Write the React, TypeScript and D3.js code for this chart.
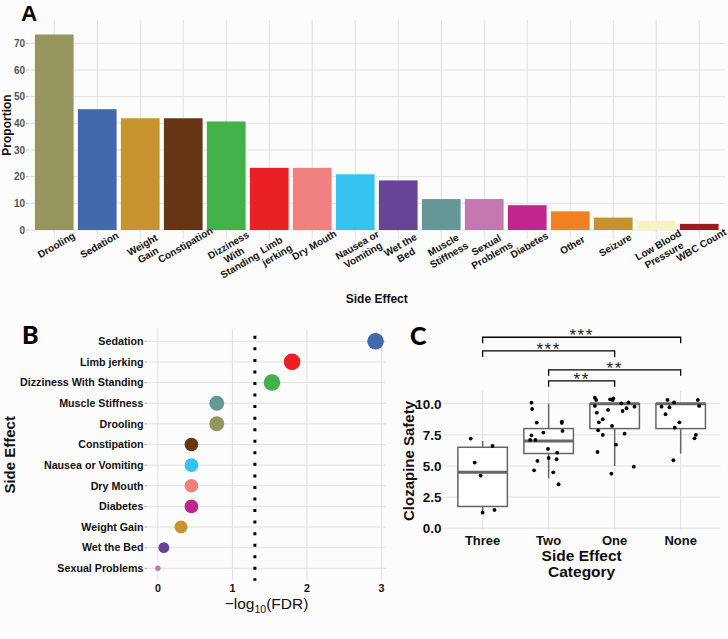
import React from "react";
import * as d3 from "d3";

// ---------- Panel A data ----------
const effectsA = [
  "Drooling", "Sedation", "Weight Gain", "Constipation", "Dizziness With Standing",
  "Limb jerking", "Dry Mouth", "Nausea or Vomiting", "Wet the Bed", "Muscle Stiffness",
  "Sexual Problems", "Diabetes", "Other", "Seizure", "Low Blood Pressure", "WBC Count",
];
const proportionA = [73.3, 45.3, 41.9, 41.9, 40.7, 23.3, 23.3, 20.9, 18.6, 11.6, 11.6, 9.3, 7.0, 4.65, 3.5, 2.3];
const colorsA = [
  "#97955f", "#4268ae", "#c79530", "#663614", "#43b14a", "#eb1f26", "#f0807f", "#35c2ee",
  "#664497", "#669797", "#c578af", "#c1268c", "#ef8124", "#c4922f", "#f8f3c6", "#9a1c20",
];
const yTicksA = [0, 10, 20, 30, 40, 50, 60, 70];

// ---------- Panel B data ----------
const effectsB = [
  "Sedation", "Limb jerking", "Dizziness With Standing", "Muscle Stiffness", "Drooling",
  "Constipation", "Nausea or Vomiting", "Dry Mouth", "Diabetes", "Weight Gain", "Wet the Bed",
  "Sexual Problems",
];
const fdrB = [2.92, 1.80, 1.53, 0.79, 0.79, 0.45, 0.45, 0.45, 0.45, 0.31, 0.08, 0.0];
const colorsB = [
  "#4268ae", "#eb1f26", "#43b14a", "#669797", "#97955f", "#663614", "#35c2ee", "#f0807f",
  "#c1268c", "#c79530", "#664497", "#c578af",
];
const xTicksB = [0, 1, 2, 3];
const thresholdB = -Math.log10(0.05);

// ---------- Panel C data ----------
const groupsC = ["Three", "Two", "One", "None"];
const whiskLoC = [1.2, 4.0, 5.0, 6.0];
const q1C = [1.75, 6.0, 8.0, 8.0];
const medC = [4.5, 7.0, 10.0, 10.0];
const q3C = [6.5, 8.0, 10.0, 10.0];
const whiskHiC = [7.0, 10.0, 10.0, 10.0];
const yTicksC = [0, 2.5, 5, 7.5, 10];
const pointGroupC = [
  0, 0, 0, 0, 0, 0,
  1, 1, 1, 1, 1, 1, 1, 1, 1, 1, 1, 1, 1, 1, 1, 1, 1, 1,
  2, 2, 2, 2, 2, 2, 2, 2, 2, 2, 2, 2, 2, 2, 2, 2, 2, 2, 2, 2, 2, 2, 2,
  3, 3, 3, 3, 3, 3, 3, 3, 3, 3, 3, 3,
];
const pointJitterC = [
  -0.18, 0.15, -0.12, -0.03, 0.0, 0.18,
  -0.26, -0.25, -0.18, 0.2, 0.2, 0.21, -0.08, -0.26, -0.28, -0.2, -0.01, 0.13, 0.0, 0.12, -0.17, -0.22, 0.07, 0.15,
  -0.3, -0.28, -0.07, -0.02, -0.03, 0.1, 0.21, 0.3, -0.3, -0.27, -0.1, 0.12, 0.18, -0.18, -0.24, -0.04, -0.25, -0.18, 0.15, 0.02, -0.26, 0.29, -0.05,
  -0.2, -0.1, 0.26, -0.29, -0.17, 0.28, -0.23, -0.02, -0.09, 0.23, 0.21, -0.11,
];
const pointValueC = [
  7.2, 6.6, 5.27, 4.22, 1.25, 1.47,
  10.08, 9.57, 8.48, 8.56, 8.45, 7.81, 7.68, 7.46, 7.09, 7.09, 6.37, 6.07, 5.64, 5.54, 5.4, 4.65, 4.49, 3.53,
  10.48, 10.3, 10.35, 10.43, 10.3, 10.03, 10.1, 9.76, 9.82, 9.28, 9.5, 9.41, 9.63, 8.75, 8.5, 8.21, 7.86, 7.49, 7.59, 6.71, 6.12, 4.94, 4.38,
  10.3, 10.1, 10.3, 9.76, 9.71, 9.82, 9.15, 8.5, 8.07, 7.49, 7.22, 5.46,
];
const bracketFrom = [0, 0, 1, 1];
const bracketTo = [3, 2, 3, 2];
const bracketY = [15.33, 14.23, 12.71, 11.83];
const bracketLabel = ["***", "***", "**", "**"];

const FONT = "'Liberation Sans', Arial, Helvetica, sans-serif";
const LETTER_FONT = "Lato, 'Open Sans', sans-serif";
const GRID = "#e1e1e1";
const INK = "#111";

function wrap(s: string, width: number): string[] {
  const words = s.split(" ");
  const lines: string[] = [];
  let cur = "";
  for (const w of words) {
    if (cur === "") cur = w;
    else if ((cur + " " + w).length <= width) cur = cur + " " + w;
    else { lines.push(cur); cur = w; }
  }
  if (cur) lines.push(cur);
  return lines;
}

function PanelA() {
  const x = d3.scaleBand<string>().domain(effectsA).range([28.5, 725]).paddingInner(0.1).paddingOuter(0.149);
  const y = d3.scaleLinear().domain([0, 78.75]).range([230, 20]);
  const [x0, x1] = x.range();
  const [yb, yt] = y.range();
  return (
    <g>
      {yTicksA.map((t) => (
        <line key={"gy" + t} x1={x0} x2={x1} y1={y(t)} y2={y(t)} stroke={GRID} strokeWidth={1} />
      ))}
      {effectsA.map((e) => {
        const cx = (x(e) as number) + x.bandwidth() / 2;
        return <line key={"gx" + e} x1={cx} x2={cx} y1={yt} y2={yb + 9} stroke={GRID} strokeWidth={1} />;
      })}
      {effectsA.map((e, i) => (
        <rect key={"b" + e} x={x(e)} y={y(proportionA[i])} width={x.bandwidth()} height={y(0) - y(proportionA[i])} fill={colorsA[i]} />
      ))}
      {yTicksA.map((t) => (
        <g key={"ty" + t}>
          <line x1={x0 - 2.5} x2={x0} y1={y(t)} y2={y(t)} stroke="#bbb" />
          <text x={x0 - 3.5} y={y(t)} dy="0.35em" textAnchor="end" fontFamily={FONT} fontWeight="bold" fontSize={10} fill="#555">{t}</text>
        </g>
      ))}
      {effectsA.map((e) => {
        const cx = (x(e) as number) + x.bandwidth() / 2;
        const lines = wrap(e, 10);
        return (
          <g key={"tx" + e} transform={`translate(${cx + 2},${245})rotate(-30)`}>
            <text textAnchor="middle" fontFamily={FONT} fontWeight="bold" fontSize={10} fill={INK}>
              {lines.map((l, k) => (
                <tspan key={k} x={0} y={k * 11.5} dy="0.35em">{l}</tspan>
              ))}
            </text>
          </g>
        );
      })}
      <text x={(x0 + x1) / 2} y={303} textAnchor="middle" fontFamily={FONT} fontWeight="bold" fontSize={12} fill={INK}>Side Effect</text>
      <text transform={`translate(11,${(yb + yt) / 2})rotate(-90)`} textAnchor="middle" fontFamily={FONT} fontWeight="bold" fontSize={12} fill={INK}>Proportion</text>
      <text x={21} y={20.8} fontFamily={FONT} fontWeight="bold" fontSize={22.5} fill="#000">A</text>
    </g>
  );
}

function PanelB() {
  const x = d3.scaleLinear().domain([-0.146, 3.06]).range([147, 386]);
  const y = d3.scalePoint<string>().domain(effectsB).range([328.9, 580.7]).padding(0.6);
  const r = d3.scalePow().exponent(0.25).domain([0, 1.5]).range([2.7, 8.3]).clamp(true);
  const [x0, x1] = x.range();
  const [y0, y1] = y.range();
  return (
    <g>
      {xTicksB.map((t) => (
        <line key={"gx" + t} x1={x(t)} x2={x(t)} y1={y0} y2={y1} stroke={GRID} />
      ))}
      {effectsB.map((e) => (
        <line key={"gy" + e} x1={x0} x2={x1} y1={y(e)} y2={y(e)} stroke={GRID} />
      ))}
      <line x1={x(thresholdB)} x2={x(thresholdB)} y1={335.8} y2={y1} stroke="#000" strokeWidth={3} strokeDasharray="3 8.55" />
      {effectsB.map((e, i) => (
        <circle key={"c" + e} cx={x(fdrB[i])} cy={y(e)} r={r(fdrB[i])} fill={colorsB[i]} />
      ))}
      {effectsB.map((e) => (
        <g key={"ty" + e}>
          <line x1={x0 - 2.5} x2={x0} y1={y(e)} y2={y(e)} stroke="#aaa" />
          <text x={x0 - 3.5} y={y(e)} dy="0.35em" textAnchor="end" fontFamily={FONT} fontWeight="bold" fontSize={10.7} fill={INK}>{e}</text>
        </g>
      ))}
      {xTicksB.map((t) => (
        <text key={"tx" + t} x={x(t)} y={592} textAnchor="middle" fontFamily={FONT} fontWeight="bold" fontSize={10.7} fill={INK}>{t}</text>
      ))}
      <text x={(x0 + x1) / 2} y={609} textAnchor="middle" fontFamily={FONT} fontSize={15.5} fill={INK}>
        −log<tspan fontSize={10.5} dy={4}>10</tspan><tspan dy={-4}>(FDR)</tspan>
      </text>
      <text transform={`translate(14.5,${(y0 + y1) / 2})rotate(-90)`} textAnchor="middle" fontFamily={FONT} fontWeight="bold" fontSize={15} fill={INK}>Side Effect</text>
      <text x={22} y={343.5} fontFamily={LETTER_FONT} fontWeight={900} fontSize={25} fill="#000">B</text>
    </g>
  );
}

function PanelC() {
  const x = d3.scalePoint<string>().domain(groupsC).range([443, 720.3]).padding(0.6);
  const y = d3.scaleLinear().domain([-0.14, 11.0]).range([530, 391.2]);
  const [x0, x1] = x.range();
  const [yb, yt] = y.range();
  const step = x.step();
  const bw = step * 0.75;
  const boxStroke = "#666";
  const tip = 0.48;
  return (
    <g>
      {yTicksC.map((t) => (
        <line key={"gy" + t} x1={x0} x2={x1} y1={y(t)} y2={y(t)} stroke={GRID} />
      ))}
      {groupsC.map((g) => (
        <line key={"gx" + g} x1={x(g)} x2={x(g)} y1={yt} y2={yb} stroke={GRID} />
      ))}
      {groupsC.map((g, i) => {
        const cx = x(g) as number;
        return (
          <g key={"box" + g}>
            <line x1={cx} x2={cx} y1={y(q3C[i])} y2={y(whiskHiC[i])} stroke={boxStroke} strokeWidth={1.5} />
            <line x1={cx} x2={cx} y1={y(q1C[i])} y2={y(whiskLoC[i])} stroke={boxStroke} strokeWidth={1.5} />
            <rect x={cx - bw / 2} y={y(q3C[i])} width={bw} height={y(q1C[i]) - y(q3C[i])} fill="#fff" stroke={boxStroke} strokeWidth={1.5} />
            <line x1={cx - bw / 2} x2={cx + bw / 2} y1={y(medC[i])} y2={y(medC[i])} stroke={boxStroke} strokeWidth={3} />
          </g>
        );
      })}
      {pointValueC.map((v, i) => (
        <circle key={"p" + i} cx={(x(groupsC[pointGroupC[i]]) as number) + pointJitterC[i] * step} cy={y(v)} r={1.9} fill="#000" />
      ))}
      {bracketY.map((by, i) => {
        const xa = x(groupsC[bracketFrom[i]]) as number;
        const xb = x(groupsC[bracketTo[i]]) as number;
        return (
          <g key={"br" + i}>
            <path d={`M${xa},${y(by - tip)}V${y(by)}H${xb}V${y(by - tip)}`} fill="none" stroke="#000" strokeWidth={1.3} />
            <text x={(xa + xb) / 2} y={y(by) + 4} textAnchor="middle" fontFamily={FONT} fontSize={17} letterSpacing={1.5} fill="#222">{bracketLabel[i]}</text>
          </g>
        );
      })}
      {yTicksC.map((t) => (
        <text key={"ty" + t} x={441.5} y={y(t)} dy="0.36em" textAnchor="end" fontFamily={FONT} fontWeight="bold" fontSize={13.5} fill={INK}>{t.toFixed(1)}</text>
      ))}
      {groupsC.map((g) => (
        <text key={"tx" + g} x={x(g)} y={545} textAnchor="middle" fontFamily={FONT} fontWeight="bold" fontSize={13} fill={INK}>{g}</text>
      ))}
      <text x={(x0 + x1) / 2} y={560.5} textAnchor="middle" fontFamily={FONT} fontWeight="bold" fontSize={15.5} fill={INK}>
        <tspan x={(x0 + x1) / 2}>Side Effect</tspan>
        <tspan x={(x0 + x1) / 2} dy={16.7}>Category</tspan>
      </text>
      <text transform={`translate(413.5,${461})rotate(-90)`} textAnchor="middle" fontFamily={FONT} fontWeight="bold" fontSize={15} fill={INK}>Clozapine Safety</text>
      <text x={410} y={345} fontFamily={LETTER_FONT} fontWeight={900} fontSize={25} fill="#000">C</text>
    </g>
  );
}

export default function App() {
  return (
    <svg width={728} height={639} viewBox="0 0 728 639" style={{ position: "absolute", left: 0, top: 0, background: "#fcfcfc" }}>
      <rect width={728} height={639} fill="#fcfcfc" />
      <PanelA />
      <PanelB />
      <PanelC />
    </svg>
  );
}
